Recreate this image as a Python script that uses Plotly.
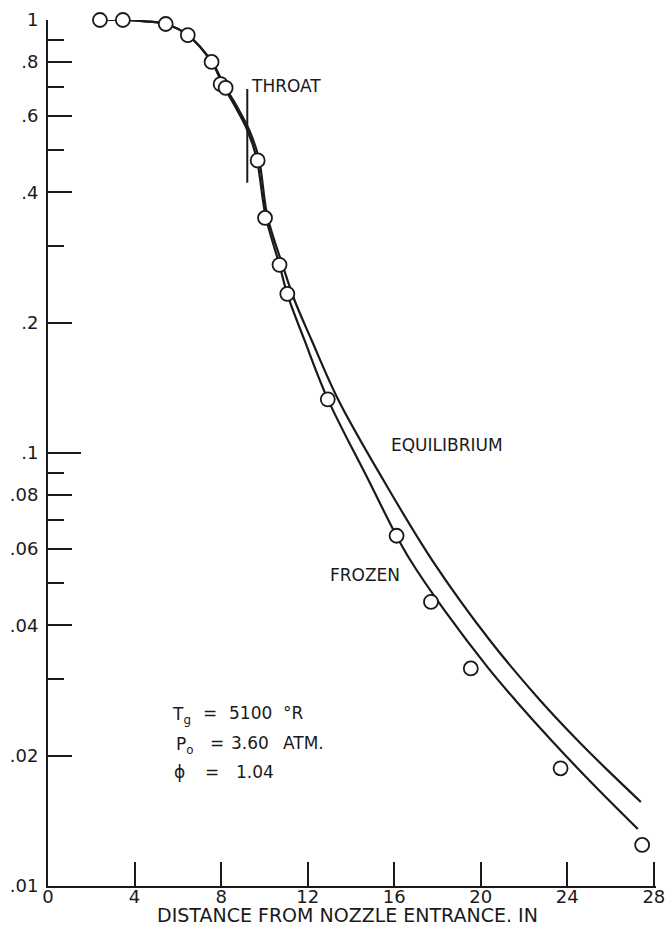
import numpy as np
import plotly.graph_objects as go

# Measured points (open circles)
meas_x = [2.40, 3.46, 5.44, 6.46, 7.56, 7.98, 8.21, 9.69, 10.03, 10.70, 11.06,
          12.93, 16.11, 17.70, 19.54, 23.69, 27.46]
meas_y = [1.0, 1.0, 0.979, 0.923, 0.80, 0.711, 0.697, 0.474, 0.349, 0.272, 0.233,
          0.133, 0.0644, 0.0453, 0.0318, 0.0187, 0.01244]

# Upstream part, where the two theory curves nearly coincide
common_y = [1.0, 1.0, 0.993, 0.979, 0.923, 0.80, 0.705, 0.625, 0.557, 0.48, 0.352]
frozen_lead_x = [2.40, 3.46, 4.5, 5.44, 6.46, 7.56, 8.1, 8.7, 9.21, 9.64, 10.06]
equil_lead_x = [2.40, 3.46, 4.5, 5.44, 6.46, 7.58, 8.16, 8.78, 9.30, 9.74, 10.14]

# Frozen-flow curve downstream of the split
frozen_x = [10.70, 11.06, 11.85, 12.93, 14.81, 16.11, 16.74, 18.31, 20.34,
            21.59, 23.25, 25.18, 27.26]
frozen_y = [0.2717, 0.2328, 0.1824, 0.1332, 0.0866, 0.0643, 0.0566, 0.0434, 0.0319,
            0.0269, 0.02174, 0.01720, 0.01354]

# Equilibrium-flow curve downstream of the split
equil_x = [10.84, 11.39, 12.18, 13.42, 15.50, 17.75, 20.41, 22.73, 24.46, 25.85, 27.40]
equil_y = [0.2717, 0.2256, 0.1824, 0.1326, 0.0866, 0.0566, 0.0370, 0.0269, 0.02174,
           0.01854, 0.01563]

# Throat station marker
throat_x = [9.21, 9.21]
throat_y = [0.693, 0.421]

x_ticks = [0, 4, 8, 12, 16, 20, 24, 28]
y_major = [0.01, 0.02, 0.04, 0.06, 0.08, 0.1, 0.2, 0.4, 0.6, 0.8, 1.0]
y_major_text = [".01", ".02", ".04", ".06", ".08", ".1", ".2", ".4", ".6", ".8", "1"]
y_minor = [0.03, 0.05, 0.07, 0.09, 0.3, 0.5, 0.7, 0.9]
y_long = [0.1, 1.0]

FONT = "DejaVu Sans"
INK = "#1a1a1a"

fig = go.Figure()

curve_line = dict(color=INK, width=2.2, shape="spline", smoothing=1.0)
fig.add_trace(go.Scatter(
    x=frozen_lead_x + frozen_x, y=common_y + frozen_y, mode="lines",
    line=curve_line, hoverinfo="skip", showlegend=False))
fig.add_trace(go.Scatter(
    x=equil_lead_x + equil_x, y=common_y + equil_y, mode="lines",
    line=curve_line, hoverinfo="skip", showlegend=False))
fig.add_trace(go.Scatter(
    x=throat_x, y=throat_y, mode="lines",
    line=dict(color=INK, width=2), hoverinfo="skip", showlegend=False))
fig.add_trace(go.Scatter(
    x=meas_x, y=meas_y, mode="markers", cliponaxis=False,
    marker=dict(symbol="circle", size=14, color="white",
                line=dict(color=INK, width=1.8)),
    showlegend=False))

# Empty trace on a twin axis carries the long ticks at decade marks
fig.add_trace(go.Scatter(x=[None], y=[None], yaxis="y2", showlegend=False,
                         hoverinfo="skip"))

ann_font = dict(family=FONT, size=17, color=INK)
# (x, y, text, anchor)
notes = [
    (9.45, 0.705, "THROAT", "left"),
    (15.9, 0.1042, "EQUILIBRIUM", "left"),
    (13.09, 0.0522, "FROZEN", "left"),
    # run conditions block
    (5.80, 0.0251, "T<sub>g</sub>", "left"),
    (7.47, 0.0251, "=", "center"),
    (8.39, 0.0251, "5100", "left"),
    (10.93, 0.0251, "°R", "left"),
    (5.95, 0.0214, "P<sub>o</sub>", "left"),
    (7.80, 0.0214, "=", "center"),
    (8.49, 0.0214, "3.60", "left"),
    (10.93, 0.0214, "ATM.", "left"),
    (5.86, 0.01832, "ϕ", "left"),
    (7.60, 0.01832, "=", "center"),
    (8.72, 0.01832, "1.04", "left"),
]
for nx, ny, txt, anc in notes:
    shift_y = -3 if "<sub>" in txt else 0
    fig.add_annotation(x=nx, y=np.log10(ny), text=txt, showarrow=False,
                       xanchor=anc, yanchor="middle", font=ann_font,
                       xshift=-3 if anc == "left" else 0, yshift=shift_y)

# Axis title placed under the tick labels
fig.add_annotation(xref="paper", yref="paper", x=0.4926, y=-0.034,
                   text="DISTANCE FROM NOZZLE ENTRANCE. IN", showarrow=False,
                   xanchor="center", yanchor="middle",
                   font=dict(family=FONT, size=19, color=INK))

fig.update_layout(
    width=667, height=939,
    margin=dict(l=48, r=11, t=20, b=53, autoexpand=False),
    paper_bgcolor="white", plot_bgcolor="white",
    xaxis=dict(
        range=[0, 28.1], tickmode="array", tickvals=x_ticks,
        ticktext=[str(v) for v in x_ticks], automargin=False,
        ticklabeloverflow="allow", ticklabelstandoff=-7,
        ticks="inside", ticklen=24, tickwidth=2, tickcolor=INK,
        showline=True, linewidth=2, linecolor=INK, showgrid=False,
        zeroline=False, tickfont=dict(family=FONT, size=18, color=INK),
    ),
    yaxis=dict(
        type="log", range=[-2, 0], tickmode="array", tickvals=y_major,
        ticktext=y_major_text, ticks="inside", ticklen=24, tickwidth=2,
        tickcolor=INK, showline=True, linewidth=2, linecolor=INK,
        showgrid=False, zeroline=False, ticklabelstandoff=4, automargin=False,
        tickfont=dict(family=FONT, size=18, color=INK),
        minor=dict(tickmode="array", tickvals=y_minor, ticks="inside",
                   ticklen=16, tickwidth=2, tickcolor=INK, showgrid=False),
    ),
    yaxis2=dict(
        type="log", range=[-2, 0], overlaying="y", side="left", anchor="x",
        tickmode="array", tickvals=y_long, ticks="inside", ticklen=33,
        tickwidth=2, tickcolor=INK, showticklabels=False, showline=False,
        showgrid=False, zeroline=False, automargin=False,
    ),
)

fig.write_html("out.html")
